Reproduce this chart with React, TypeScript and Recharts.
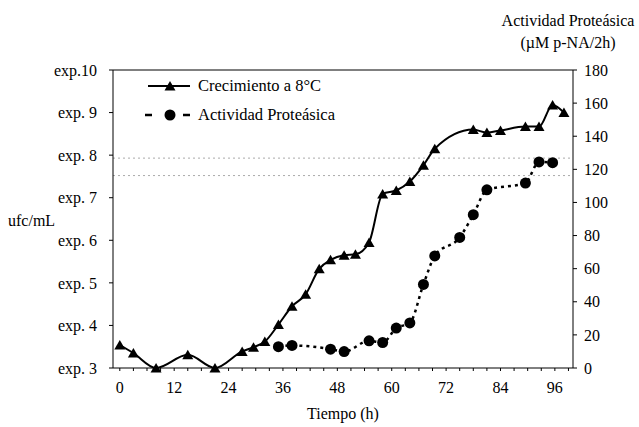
import { ComposedChart, Line, XAxis, YAxis, ReferenceLine, Label } from 'recharts'

// tiempo (h) de cada muestreo
const tiempos = [0, 3, 8, 15, 21, 27, 29.5, 32, 35, 38, 41, 44, 46.5, 49.5, 52, 55, 58, 61, 64, 67, 69.5, 75, 78, 81, 84, 89.5, 92.5, 95.5, 98]
// crecimiento a 8°C (exp. ufc/mL), null = sin dato
const crecimiento = [3.54, 3.35, 3.0, 3.31, 3.0, 3.39, 3.49, 3.62, 4.02, 4.45, 4.73, 5.33, 5.54, 5.65, 5.67, 5.95, 7.09, 7.17, 7.38, 7.76, 8.15, null, 8.6, 8.53, 8.58, 8.67, 8.67, 9.18, 9.0]
// actividad proteásica (µM p-NA/2h)
const proteasa = [null, null, null, null, null, null, null, null, 12.9, 13.6, null, null, 11.4, 9.9, null, 16.4, 15.4, 24.1, 27.2, 50.5, 67.7, 78.9, 92.6, 107.6, null, 111.7, 124.5, 124, null]

const xTicks = [0, 3, 6, 9, 12, 15, 18, 21, 24, 27, 30, 33, 36, 39, 42, 45, 48, 51, 54, 57, 60, 63, 66, 69, 72, 75, 78, 81, 84, 87, 90, 93, 96, 99]
const leftTicks = [3, 4, 5, 6, 7, 8, 9, 10]
const leftLabels = ['exp. 3', 'exp. 4', 'exp. 5', 'exp. 6', 'exp. 7', 'exp. 8', 'exp. 9', 'exp.10']
const rightTicks = [0, 20, 40, 60, 80, 100, 120, 140, 160, 180]

const data = tiempos.map((t, i) => ({ t, crecimiento: crecimiento[i], proteasa: proteasa[i] }))

const font = 'Liberation Serif, DejaVu Serif, serif'

const Triangle = (props: any) => {
    const { cx, cy, payload } = props
    if (cx == null || cy == null || payload?.crecimiento == null) return null
    return <path key={`tri-${cx}`} d={`M${cx - 5.5},${cy + 4.5} L${cx},${cy - 5} L${cx + 5.5},${cy + 4.5} Z`} fill="#000" />
}

const Circle = (props: any) => {
    const { cx, cy, payload } = props
    if (cx == null || cy == null || payload?.proteasa == null) return null
    return <circle key={`cir-${cx}`} cx={cx} cy={cy} r={5.5} fill="#000" />
}

export default function App() {
    return (
        <div style={{ position: 'absolute', left: 0, top: 0, width: 639, height: 427, background: '#fff', fontFamily: font, color: '#000' }}>
            <ComposedChart width={639} height={427} data={data} margin={{ top: 70, right: 16, bottom: 29, left: 53 }} style={{ fontFamily: font }}>
                <XAxis
                    dataKey="t"
                    type="number"
                    domain={[-1.5, 100]}
                    ticks={xTicks}
                    tickFormatter={(v: number) => (v % 12 === 0 ? String(v) : '')}
                    tickSize={3}
                    tickMargin={11}
                    height={30}
                    stroke="#000"
                    tick={{ fill: '#000', fontSize: 16, fontFamily: font }}
                    interval={0}
                >
                    <Label value="Tiempo (h)" position="insideBottom" offset={-21} fill="#000" style={{ fontSize: 16, fontFamily: font }} />
                </XAxis>
                <YAxis
                    yAxisId="left"
                    domain={[3, 10]}
                    ticks={leftTicks}
                    tickFormatter={(v: number) => leftLabels[leftTicks.indexOf(v)]}
                    width={60}
                    tickSize={4}
                    tickMargin={12}
                    stroke="#000"
                    tick={{ fill: '#000', fontSize: 16, fontFamily: font }}
                    interval={0}
                />
                <YAxis
                    yAxisId="right"
                    orientation="right"
                    domain={[0, 180]}
                    ticks={rightTicks}
                    width={50}
                    tickSize={4}
                    tickMargin={7}
                    stroke="#000"
                    tick={{ fill: '#000', fontSize: 16, fontFamily: font }}
                    interval={0}
                />
                <ReferenceLine yAxisId="left" y={10} stroke="#000" strokeWidth={1} />
                <ReferenceLine yAxisId="left" y={7.93} stroke="#aaa" strokeDasharray="2 3" strokeWidth={1} />
                <ReferenceLine yAxisId="left" y={7.52} stroke="#aaa" strokeDasharray="2 3" strokeWidth={1} />
                <Line
                    yAxisId="left"
                    type="monotone"
                    dataKey="crecimiento"
                    stroke="#000"
                    strokeWidth={2}
                    dot={<Triangle />}
                    activeDot={false}
                    connectNulls
                    isAnimationActive={false}
                />
                <Line
                    yAxisId="right"
                    type="monotone"
                    dataKey="proteasa"
                    stroke="#000"
                    strokeWidth={2.5}
                    strokeDasharray="3 4"
                    dot={<Circle />}
                    activeDot={false}
                    connectNulls
                    isAnimationActive={false}
                />
            </ComposedChart>

            <div style={{ position: 'absolute', left: 8, top: 212, fontSize: 16, lineHeight: '18px' }}>ufc/mL</div>
            <div style={{ position: 'absolute', left: 480, width: 176, top: 10, fontSize: 16, textAlign: 'center', lineHeight: '22px' }}>
                <div>Actividad Proteásica</div>
                <div>(µM p-NA/2h)</div>
            </div>

            <svg style={{ position: 'absolute', left: 140, top: 76 }} width={60} height={50}>
                <line x1={8} y1={10} x2={50} y2={10} stroke="#000" strokeWidth={2} />
                <path d="M24.5,14.5 L30,5 L35.5,14.5 Z" fill="#000" />
                <line x1={5} y1={39} x2={12} y2={39} stroke="#000" strokeWidth={2.5} />
                <circle cx={30} cy={39} r={5.5} fill="#000" />
                <line x1={43} y1={39} x2={50} y2={39} stroke="#000" strokeWidth={2.5} />
            </svg>
            <div style={{ position: 'absolute', left: 198, top: 76, fontSize: 16.5, lineHeight: '20px' }}>Crecimiento a 8°C</div>
            <div style={{ position: 'absolute', left: 198, top: 105, fontSize: 16.5, lineHeight: '20px' }}>Actividad Proteásica</div>
        </div>
    )
}
